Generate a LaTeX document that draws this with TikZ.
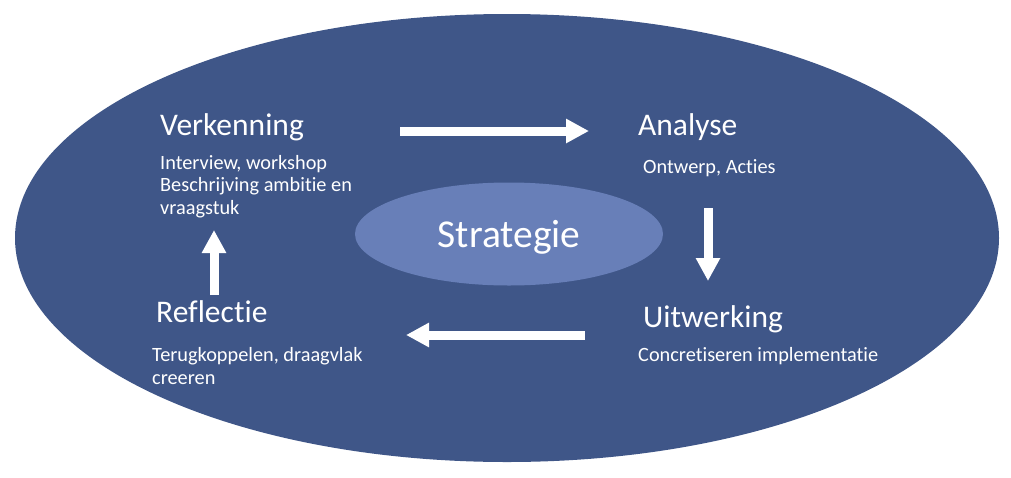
\documentclass[tikz,border=0pt]{standalone}
\usepackage{fontspec}
\setmainfont{Carlito}[RawFeature=-liga]
\usetikzlibrary{arrows.meta,shapes.geometric}
\definecolor{outerblue}{RGB}{63,86,136}
\definecolor{innerblue}{RGB}{104,127,184}
\tikzset{
  title/.style={anchor=base west, inner sep=0pt, text=white, font=\fontsize{31.5}{32}\selectfont},
  sub/.style={anchor=base west, inner sep=0pt, text=white, align=left, font=\fontsize{20.3}{22.5}\selectfont},
  bigarrow/.style={draw=white, line width=9pt, -{Triangle[width=23pt,length=23pt]}}
}
\begin{document}
\begin{tikzpicture}[x=1pt,y=-1pt]
\useasboundingbox (0,0) rectangle (1011,477);
\node[ellipse, fill=outerblue, minimum width=984pt, minimum height=448pt, inner sep=0pt] (outer) at (507,238) {};
\node[ellipse, fill=innerblue, minimum width=308pt, minimum height=103pt, inner sep=0pt] (inner) at (509,234) {};
\node[anchor=base, inner sep=0pt, text=white, font=\fontsize{39.5}{40}\selectfont] (strat) at (509,247) {Strategie};

\node[title] (verk) at (160,135) {Verkenning};
\node[sub] (verksub) at (160,214) {Interview, workshop\\Beschrijving ambitie en\\vraagstuk};
\node[title] (anal) at (638,135) {Analyse};
\node[sub] (analsub) at (643,173) {Ontwerp, Acties};
\node[title] (uitw) at (643,327) {Uitwerking};
\node[sub] (uitwsub) at (638,361) {Concretiseren implementatie};
\node[title] (refl) at (156,322) {Reflectie};
\node[sub] (reflsub) at (152,384) {Terugkoppelen, draagvlak\\creeren};

\coordinate (a1s) at (400,131); \coordinate (a1e) at (589,131);
\coordinate (a2s) at (708,208); \coordinate (a2e) at (708,281);
\coordinate (a3s) at (585,335); \coordinate (a3e) at (406,335);
\coordinate (a4s) at (214,295); \coordinate (a4e) at (214,230);
\draw[bigarrow] (a1s) -- (a1e);
\draw[bigarrow] (a2s) -- (a2e);
\draw[bigarrow] (a3s) -- (a3e);
\draw[bigarrow] (a4s) -- (a4e);
\end{tikzpicture}
\end{document}
